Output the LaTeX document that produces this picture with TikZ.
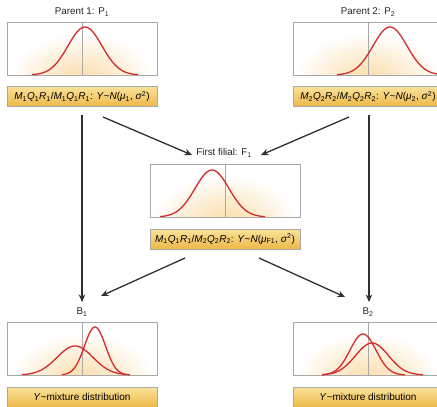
\documentclass[tikz,border=0pt]{standalone}
\usepackage{fontspec}
\setmainfont{Liberation Sans}
\usetikzlibrary{arrows.meta,calc}
\definecolor{curvered}{HTML}{D52B2B}
\definecolor{boxgray}{HTML}{A8A8A8}
\definecolor{goldtop}{HTML}{FAE29A}
\definecolor{goldbot}{HTML}{EDB848}
\definecolor{panelglow}{HTML}{FADCA8}
\definecolor{arrowcol}{HTML}{303030}
\newcommand{\sbs}[1]{\textsubscript{#1}}
\tikzset{
  panel/.style={draw=boxgray, line width=0.8pt, minimum width=150pt, minimum height=53pt, inner sep=0pt},
  title/.style={font=\fontsize{9.8}{11}\selectfont, text=black!85, inner sep=1pt},
  genobox/.style={draw=boxgray, line width=0.6pt, minimum width=150pt, minimum height=20pt, inner sep=0pt,
     top color=goldtop, bottom color=goldbot, font=\fontsize{10}{12}\selectfont},
  curve/.style={draw=curvered, line width=1.3pt},
  midline/.style={draw=boxgray, line width=0.5pt},
  flow/.style={draw=arrowcol, line width=1.3pt, -{Stealth[length=7.5pt,width=6.5pt]}}
}
\newcommand{\panelbg}[1]{%
  \begin{scope}
    \clip (#1.south west) rectangle (#1.north east);
    \shade[inner color=panelglow, outer color=white] ($(#1.south)+(0,-4pt)$) ellipse (72pt and 46pt);
  \end{scope}
  \draw[midline] (#1.north) -- (#1.south);
  \node[panel] at (#1) {};
}
\begin{document}
\begin{tikzpicture}[x=1pt,y=-1pt]
\useasboundingbox (0,0) rectangle (437,407);
\fill[white] (0,0) rectangle (437,407);

% titles
\node[title] (t1) at (82,12) {Parent 1: P\sbs{1}};
\node[title] (t2) at (368,12) {Parent 2: P\sbs{2}};
\node[title] (tf) at (224,153) {First filial: F\sbs{1}};
\node[title] (tb1) at (82,312) {B\sbs{1}};
\node[title] (tb2) at (368,312) {B\sbs{2}};

% panels
\node[panel] (p1) at (82,48.5) {};
\node[panel] (p2) at (368,48.5) {};
\node[panel] (pf) at (225,190.5) {};
\node[panel] (pb1) at (82,348.5) {};
\node[panel] (pb2) at (368,348.5) {};
\panelbg{p1}\panelbg{p2}\panelbg{pf}\panelbg{pb1}\panelbg{pb2}

% curves
\draw[curve] plot[domain=32:138, samples=70] (\x,{75-48*exp(-((\x-85)^2)/(2*17^2))});
\draw[curve] plot[domain=337:443, samples=70] (\x,{75-48*exp(-((\x-390)^2)/(2*17^2))});
\draw[curve] plot[domain=160:265, samples=70] (\x,{217-47*exp(-((\x-212)^2)/(2*17^2))});
\draw[curve] plot[domain=22:130, samples=70] (\x,{375-29*exp(-((\x-75)^2)/(2*18^2))});
\draw[curve] plot[domain=62:126, samples=70] (\x,{375-48*exp(-((\x-95)^2)/(2*10.5^2))});
\draw[curve] plot[domain=322:405, samples=70] (\x,{375-41*exp(-((\x-363)^2)/(2*13^2))});
\draw[curve] plot[domain=322:423, samples=70] (\x,{375-32*exp(-((\x-372)^2)/(2*16.5^2))});

% genotype boxes
\node[genobox] (g1) at (82,96.5) {\textit{M}\sbs{1}\textit{Q}\sbs{1}\textit{R}\sbs{1}/\textit{M}\sbs{1}\textit{Q}\sbs{1}\textit{R}\sbs{1}: \textit{Y}\textasciitilde\textit{N}(\textit{μ}\sbs{1}, \textit{σ}\textsuperscript{2})};
\node[genobox] (g2) at (368,96.5) {\textit{M}\sbs{2}\textit{Q}\sbs{2}\textit{R}\sbs{2}/\textit{M}\sbs{2}\textit{Q}\sbs{2}\textit{R}\sbs{2}: \textit{Y}\textasciitilde\textit{N}(\textit{μ}\sbs{2}, \textit{σ}\textsuperscript{2})};
\node[genobox] (gf) at (225,239) {\textit{M}\sbs{1}\textit{Q}\sbs{1}\textit{R}\sbs{1}/\textit{M}\sbs{2}\textit{Q}\sbs{2}\textit{R}\sbs{2}: \textit{Y}\textasciitilde\textit{N}(\textit{μ}\sbs{F1}, \textit{σ}\textsuperscript{2})};
\node[genobox] (gb1) at (82,397) {\textit{Y}\textasciitilde mixture distribution};
\node[genobox] (gb2) at (368,397) {\textit{Y}\textasciitilde mixture distribution};

% arrows
\coordinate (a1s) at (82,115);
\coordinate (a1e) at (82,302);
\coordinate (a2s) at (369,115);
\coordinate (a2e) at (369,302);
\draw[flow] (a1s) -- (a1e);
\draw[flow] (a2s) -- (a2e);
\coordinate (d1s) at (103,117);
\coordinate (d1e) at (192,155);
\coordinate (d2s) at (349,117);
\coordinate (d2e) at (261,155);
\draw[flow] (d1s) -- (d1e);
\draw[flow] (d2s) -- (d2e);
\coordinate (d3s) at (185,258);
\coordinate (d3e) at (101,296);
\coordinate (d4s) at (259,258);
\coordinate (d4e) at (345,297);
\draw[flow] (d3s) -- (d3e);
\draw[flow] (d4s) -- (d4e);
\end{tikzpicture}
\end{document}
